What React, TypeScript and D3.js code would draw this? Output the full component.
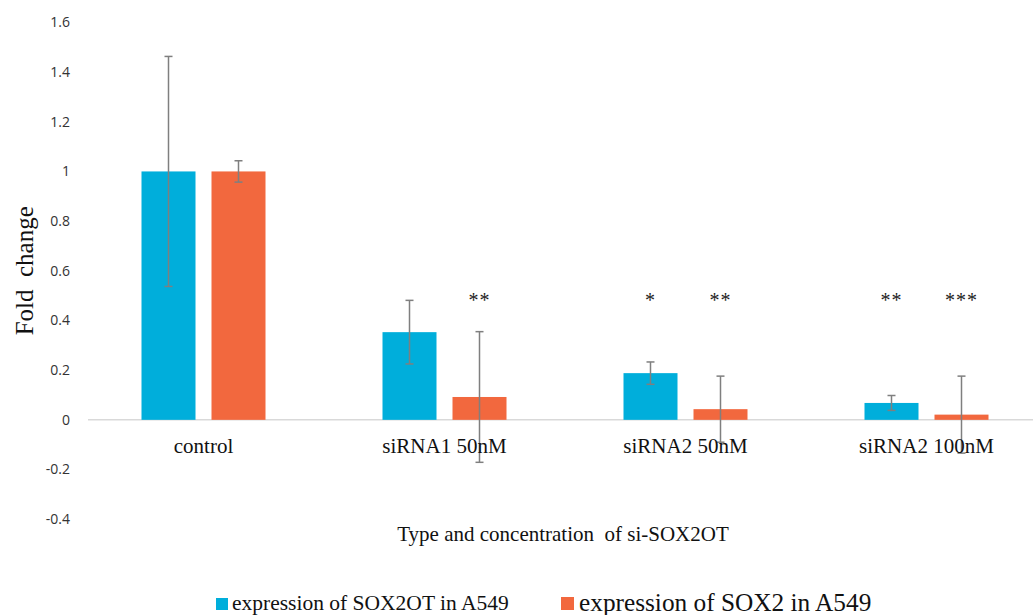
import React from "react";
import * as d3 from "d3";

// Knock-down groups along the x axis
const categories = ["control", "siRNA1 50nM", "siRNA2 50nM", "siRNA2 100nM"];
const seriesNames = ["expression of SOX2OT in A549", "expression of SOX2 in A549"];
const seriesColors = ["#00AEDB", "#F2683E"];

// Mean fold change per group
const sox2otValues = [1.0, 0.353, 0.188, 0.068];
const sox2Values = [1.0, 0.092, 0.043, 0.021];

// Error bar half-widths
const sox2otErrors = [0.463, 0.128, 0.045, 0.03];
const sox2Errors = [0.043, 0.263, 0.133, 0.155];

// Significance marks above each bar
const sox2otStars = ["", "", "*", "**"];
const sox2Stars = ["", "**", "**", "***"];
const starLevel = 0.455;

const yTicks = [-0.4, -0.2, 0, 0.2, 0.4, 0.6, 0.8, 1, 1.2, 1.4, 1.6];

const W = 1033;
const H = 615;

export default function App() {
  const x0 = d3.scaleBand<string>().domain(categories).range([83, 1047]).paddingInner(117 / 241).paddingOuter(117 / 482);
  const x1 = d3.scaleBand<number>().domain([0, 1]).range([0, x0.bandwidth()]).paddingInner(16 / 70).paddingOuter(0);
  const y = d3.scaleLinear().domain([-0.4, 1.6]).range([519.2, 22.4]);

  const series = [
    { values: sox2otValues, errors: sox2otErrors, stars: sox2otStars },
    { values: sox2Values, errors: sox2Errors, stars: sox2Stars },
  ];

  const serif = "'Liberation Serif', 'Times New Roman', serif";
  const sans = "'Open Sans', 'Liberation Sans', sans-serif";

  return (
    <div style={{ position: "absolute", left: 0, top: 0 }}>
      <svg width={W} height={H} style={{ display: "block", background: "#fff" }}>
        {/* y tick labels */}
        {yTicks.map((t) => (
          <text key={t} x={70} y={y(t)} dy="0.35em" textAnchor="end" fontFamily={sans} fontSize={14} fill="#333">
            {String(+t.toFixed(1))}
          </text>
        ))}
        {/* zero line */}
        <line x1={88} x2={W} y1={y(0)} y2={y(0)} stroke="#d9d9d9" strokeWidth={1.5} />

        {/* bars */}
        {series.map((s, si) =>
          categories.map((c, ci) => {
            const bx = (x0(c) ?? 0) + (x1(si) ?? 0);
            const v = s.values[ci];
            return (
              <rect
                key={`b-${si}-${ci}`}
                x={bx}
                y={y(Math.max(0, v))}
                width={x1.bandwidth()}
                height={Math.abs(y(v) - y(0))}
                fill={seriesColors[si]}
              />
            );
          })
        )}

        {/* error bars */}
        {series.map((s, si) =>
          categories.map((c, ci) => {
            const cx = (x0(c) ?? 0) + (x1(si) ?? 0) + x1.bandwidth() / 2;
            const v = s.values[ci];
            const e = s.errors[ci];
            const top = y(v + e);
            const bot = y(v - e);
            return (
              <g key={`e-${si}-${ci}`} stroke="#7f7f7f" strokeWidth={1.5}>
                <line x1={cx} x2={cx} y1={top} y2={bot} />
                <line x1={cx - 4} x2={cx + 4} y1={top} y2={top} />
                <line x1={cx - 4} x2={cx + 4} y1={bot} y2={bot} />
              </g>
            );
          })
        )}

        {/* significance stars */}
        {series.map((s, si) =>
          categories.map((c, ci) => {
            const cx = (x0(c) ?? 0) + (x1(si) ?? 0) + x1.bandwidth() / 2;
            return s.stars[ci] ? (
              <text
                key={`s-${si}-${ci}`}
                x={cx}
                y={y(starLevel)}
                textAnchor="middle"
                fontFamily={serif}
                fontSize={20}
                letterSpacing={1}
                fill="#222"
              >
                {s.stars[ci]}
              </text>
            ) : null;
          })
        )}

        {/* category labels */}
        {categories.map((c) => (
          <text
            key={c}
            x={(x0(c) ?? 0) + x0.bandwidth() / 2}
            y={453}
            textAnchor="middle"
            fontFamily={serif}
            fontSize={21}
            fill="#111"
          >
            {c}
          </text>
        ))}

        {/* axis titles */}
        <text x={563} y={541} textAnchor="middle" fontFamily={serif} fontSize={21} fill="#111" style={{ whiteSpace: "pre" }}>
          {"Type and concentration  of si-SOX2OT"}
        </text>
        <text
          transform={`translate(33, ${y(0.6)}) rotate(-90)`}
          textAnchor="middle"
          fontFamily={serif}
          fontSize={25}
          fill="#111"
          style={{ whiteSpace: "pre" }}
        >
          {"Fold  change"}
        </text>

        {/* legend */}
        <rect x={216} y={598} width={12} height={12} fill={seriesColors[0]} />
        <text x={232} y={610} fontFamily={serif} fontSize={21.5} fill="#111">
          {seriesNames[0]}
        </text>
        <rect x={561} y={597} width={13} height={13} fill={seriesColors[1]} />
        <text x={579} y={611} fontFamily={serif} fontSize={25.3} fill="#111">
          {seriesNames[1]}
        </text>
      </svg>
    </div>
  );
}
